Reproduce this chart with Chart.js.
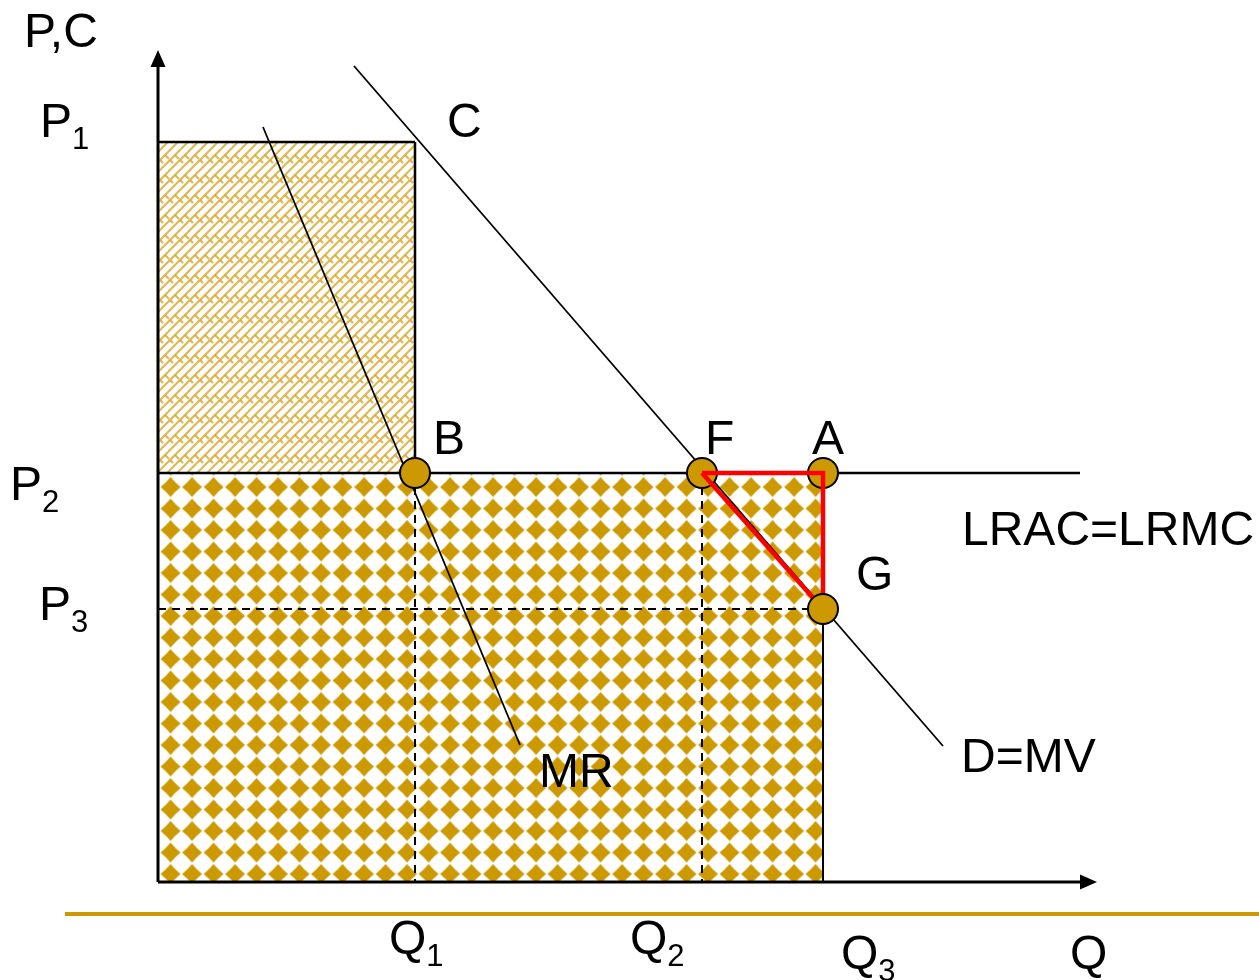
<!DOCTYPE html>
<html>
<head>
<meta charset="utf-8">
<title>Natural monopoly: LRAC = LRMC</title>
<script src="https://cdn.jsdelivr.net/npm/chart.js@4.4.1/dist/chart.umd.min.js"></script>
<style>
  html, body { margin: 0; padding: 0; background: #fff; }
  canvas { display: block; }
</style>
</head>
<body>
<canvas id="chart" width="1259" height="980"></canvas>
<script>
// Diagram values (1 unit = 10 px on screen)
const quantityNames = ['Q1', 'Q2', 'Q3'];
const quantities = [25.7, 54.4, 66.5];
const priceNames = ['P1', 'P2', 'P3'];
const prices = [74.0, 40.9, 27.3];

// D = MV and MR line end points
const demandQ = [19.6, 78.5];
const demandP = [81.6, 13.6];
const mrQ = [10.5, 36.2];
const mrP = [75.5, 13.7];

// LRAC = LRMC is flat at P2 out to here
const lracEndQ = 92.2;

// arrow tips of the axes
const xAxisEnd = 93.9;
const yAxisEnd = 83.2;

// marked points
const pointNames = ['B', 'F', 'A', 'G'];
const pointQ = [quantities[0], quantities[1], quantities[2], quantities[2]];
const pointP = [prices[1], prices[1], prices[1], prices[2]];

const GOLD = '#CC9900';
const FONT = '"Liberation Sans", Arial, sans-serif';

// ---- fill patterns ----
function makeDiamondPattern(ctx) {
    const step = 21.5;
    const c = document.createElement('canvas');
    c.width = c.height = 43;
    const g = c.getContext('2d');
    g.fillStyle = '#fff';
    g.fillRect(0, 0, 43, 43);
    g.fillStyle = GOLD;
    const h = 10, k = 0.45;
    [step / 2, step * 1.5].forEach(cx => {
        [step / 2, step * 1.5].forEach(cy => {
            g.beginPath();
            g.moveTo(cx, cy - h);
            g.quadraticCurveTo(cx + h * k, cy - h * k, cx + h, cy);
            g.quadraticCurveTo(cx + h * k, cy + h * k, cx, cy + h);
            g.quadraticCurveTo(cx - h * k, cy + h * k, cx - h, cy);
            g.quadraticCurveTo(cx - h * k, cy - h * k, cx, cy - h);
            g.fill();
        });
    });
    const p = ctx.createPattern(c, 'repeat');
    p.setTransform(new DOMMatrix([1, 0, 0, 1, 159.75, 476.25]));
    return p;
}

function makeWeavePattern(ctx) {
    // diagonal fret: '/' strands with '\' hooks between them
    const s = 20;
    const c = document.createElement('canvas');
    c.width = c.height = s;
    const g = c.getContext('2d');
    g.fillStyle = '#fff';
    g.fillRect(0, 0, s, s);
    g.strokeStyle = 'rgba(212, 166, 40, 0.8)';
    g.lineWidth = 2.2;
    g.lineCap = 'butt';
    const line = (x1, y1, x2, y2) => {
        [-s, 0, s].forEach(ox => [-s, 0, s].forEach(oy => {
            g.beginPath();
            g.moveTo(x1 + ox, y1 + oy);
            g.lineTo(x2 + ox, y2 + oy);
            g.stroke();
        }));
    };
    line(0, s, s, 0);
    line(s / 2, s, s + s / 2, 0);
    // hooks: leave from one strand, stop short of the next
    line(5, 15, 9, 19);
    line(15, 15, 19, 19);
    line(10, 0, 13, 3);
    line(0, 0, 3, 3);
    return ctx.createPattern(c, 'repeat');
}

const ctx = document.getElementById('chart').getContext('2d');
const diamonds = makeDiamondPattern(ctx);
const weave = makeWeavePattern(ctx);

function seg(xs, ys, style) {
    return Object.assign({
        data: xs.map((x, i) => ({ x: x, y: ys[i] })),
        showLine: true,
        pointRadius: 0,
        borderColor: '#000',
        borderWidth: 2,
        fill: false,
        tension: 0,
        order: 10
    }, style);
}

const [Q1, Q2, Q3] = quantities;
const [P1, P2, P3] = prices;
const dashed = { borderDash: [8, 6], borderWidth: 2 };
const dot = {
    showLine: false,
    pointRadius: 15,
    pointBackgroundColor: GOLD,
    pointBorderColor: '#000',
    pointBorderWidth: 2
};

const datasets = [
    // total cost / revenue areas
    seg([0, Q3], [P2, P2], { fill: 'origin', backgroundColor: diamonds, borderColor: 'rgba(0,0,0,0)', order: 30 }),
    seg([0, Q1], [P1, P1], { fill: { value: P2 }, backgroundColor: weave, borderWidth: 2.5, order: 29 }),
    seg([Q1, Q1], [P1, P2], { borderWidth: 2.5 }),
    seg([Q3, Q3], [P3, 0]),
    // dashed guides
    seg([Q1, Q1], [P2, 0], dashed),
    seg([Q2, Q2], [P2, 0], dashed),
    seg([0, Q3], [P3, P3], dashed),
    // curves
    seg([0, lracEndQ], [P2, P2], { borderWidth: 2.5 }),
    seg(demandQ, demandP, { borderWidth: 1.8 }),
    seg(mrQ, mrP, { borderWidth: 1.8 }),
    // points B, F, A
    Object.assign({ data: pointQ.slice(0, 3).map((q, i) => ({ x: q, y: pointP[i] })), order: 3 }, dot),
    // deadweight loss triangle
    seg([Q2, Q3, Q3, Q2], [P2, P2, P3, P2], { borderColor: '#FF0000', borderWidth: 4.5, borderJoinStyle: 'miter', order: 2 }),
    // point G
    Object.assign({ data: [{ x: pointQ[3], y: pointP[3] }], order: 1 }, dot)
];

// text: [main, subscript, anchor q, anchor p, dx, dy]
const labels = [
    ['P,C', '', 0, yAxisEnd, -134, -3],
    ['P', '1', 0, P1, -118, -5],
    ['P', '2', 0, P2, -148, 27],
    ['P', '3', 0, P3, -119, 11],
    ['Q', '1', Q1, 0, -26, 72],
    ['Q', '2', Q2, 0, -72, 72],
    ['Q', '3', Q3, 0, 18, 87],
    ['Q', '', xAxisEnd, 0, -27, 87],
    ['C', '', demandQ[0], demandP[0], 93, 71],
    ['MR', '', mrQ[1], mrP[1], 19, 42],
    ['LRAC=LRMC', '', lracEndQ, P2, -118, 72],
    ['D=MV', '', demandQ[1], demandP[1], 18, 26],
    [pointNames[0], '', pointQ[0], pointP[0], 18, -19],
    [pointNames[1], '', pointQ[1], pointP[1], 3, -19],
    [pointNames[2], '', pointQ[2], pointP[2], -11, -19],
    [pointNames[3], '', pointQ[3], pointP[3], 33, -19]
];

const diagramPlugin = {
    id: 'diagram',
    afterDatasetsDraw(chart) {
        const c = chart.ctx;
        const xs = chart.scales.x, ys = chart.scales.y;
        const ox = xs.getPixelForValue(0), oy = ys.getPixelForValue(0);
        const tx = xs.getPixelForValue(xAxisEnd), ty = ys.getPixelForValue(yAxisEnd);
        c.save();
        // axes with arrow heads
        c.strokeStyle = '#000';
        c.fillStyle = '#000';
        c.lineWidth = 3;
        c.beginPath();
        c.moveTo(ox, oy);
        c.lineTo(ox, ty + 14);
        c.moveTo(ox, oy);
        c.lineTo(tx - 14, oy);
        c.stroke();
        c.beginPath();
        c.moveTo(ox, ty);
        c.lineTo(ox - 7.5, ty + 17);
        c.lineTo(ox + 7.5, ty + 17);
        c.closePath();
        c.fill();
        c.beginPath();
        c.moveTo(tx, oy);
        c.lineTo(tx - 17, oy - 7.5);
        c.lineTo(tx - 17, oy + 7.5);
        c.closePath();
        c.fill();
        // gold rule under the axis
        c.fillStyle = GOLD;
        c.fillRect(65, oy + 30, chart.width - 65, 4);
        // labels
        c.fillStyle = '#000';
        c.textBaseline = 'alphabetic';
        c.textAlign = 'left';
        labels.forEach(([main, sub, q, p, dx, dy]) => {
            const x = xs.getPixelForValue(q) + dx;
            const y = ys.getPixelForValue(p) + dy;
            c.font = '48px ' + FONT;
            c.fillText(main, x, y);
            if (sub) {
                const w = c.measureText(main).width;
                c.font = '31px ' + FONT;
                c.fillText(sub, x + w, y + 12);
            }
        });
        c.restore();
    }
};

new Chart(ctx, {
    type: 'scatter',
    data: { datasets: datasets },
    options: {
        responsive: false,
        animation: false,
        events: [],
        layout: { autoPadding: false, padding: { left: 158, right: 0, top: 0, bottom: 98 } },
        scales: {
            x: { type: 'linear', min: 0, max: 110.1, display: false },
            y: { type: 'linear', min: 0, max: 88.2, display: false }
        },
        plugins: {
            legend: { display: false },
            tooltip: { enabled: false }
        }
    },
    plugins: [diagramPlugin]
});
</script>
</body>
</html>
